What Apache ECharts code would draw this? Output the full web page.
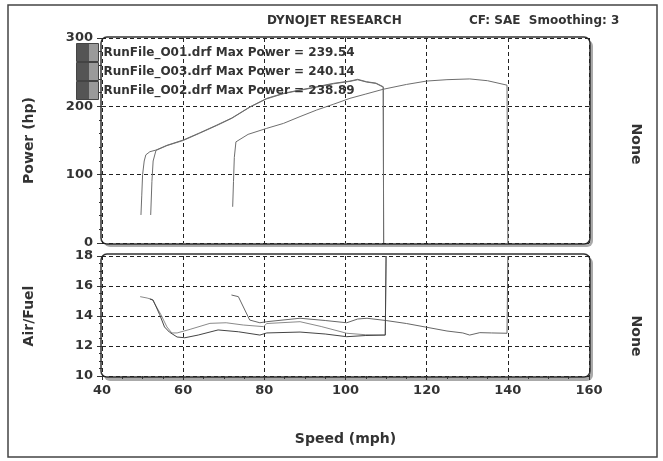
<!DOCTYPE html>
<html><head><meta charset="utf-8">
<script src="https://cdn.jsdelivr.net/npm/echarts@6/dist/echarts.min.js"></script>
<style>html,body{margin:0;padding:0;background:#fff}#c{width:663px;height:461px}</style>
</head><body><div id="c"></div>
<script>
// ---- data ----
const runNames = ['RunFile_O01.drf', 'RunFile_O03.drf', 'RunFile_O02.drf'];
const maxPower = [239.54, 240.14, 238.89];
const speedTicks = [40, 60, 80, 100, 120, 140, 160];
const powerTicks = [0, 100, 200, 300];
const afrTicks = [10, 12, 14, 16, 18];

// [speed mph, power hp]
const powerO01 = [[49.6,41],[49.8,70],[50.0,100],[50.4,120],[50.8,129],[51.8,133.6],[53.3,136],[56,143],[60,150.7],[64,161],[68.3,172.6],[72,183],[76.5,199.4],[80.6,211.7],[84.7,219],[88.8,224],[92.9,228.7],[97,233.6],[101.1,237],[103,239.5],[105.2,236],[107.5,234],[109.3,228.7],[109.4,0]];
const powerO02 = [[52.0,41],[52.3,90],[52.6,120],[53.3,135.5],[56,142.5],[60,150],[64,160.5],[68.3,172],[72,182.5],[76.5,199],[80.6,211],[84.7,218.5],[88.8,223.5],[92.9,228],[97,233],[101.1,236.5],[103,238.9],[105.2,235.5],[107.5,233.5],[109.3,228],[109.4,0]];
const powerO03 = [[72.2,53],[72.4,90],[72.6,125],[73.0,148],[73.2,150.7],[76,159],[80.6,167.8],[84.7,175],[88.8,185],[92.9,194.6],[97,203],[101.1,211.7],[105,218],[109.3,225],[115,232],[120,237],[125,239],[130.6,240.1],[135,237.5],[139.8,231],[140,0]];

// [speed mph, air/fuel ratio]
const afrO01 = [[49.4,15.29],[51.1,15.2],[52.4,15.1],[54.5,14.1],[56.0,13.27],[57.2,12.87],[58.5,12.87],[61.7,13.11],[66.6,13.51],[70.6,13.55],[74.8,13.4],[79.8,13.29],[80.6,13.5],[88.8,13.62],[94,13.3],[100.3,12.85],[105,12.75],[109.8,12.73],[110,18]];
const afrO02 = [[51.8,15.13],[52.6,15.06],[54.2,14.1],[55.4,13.27],[56.6,12.93],[58.5,12.6],[60.4,12.55],[63.7,12.73],[68.6,13.07],[73.6,12.95],[78.9,12.73],[80.6,12.87],[88.8,12.93],[95,12.8],[100.3,12.62],[105,12.7],[109.8,12.73],[110,18]];
const afrO03 = [[71.9,15.4],[73.6,15.29],[75.2,14.4],[76.4,13.73],[78.9,13.55],[80.6,13.62],[88.8,13.85],[95,13.7],[100.3,13.55],[103,13.8],[105.3,13.85],[110.2,13.69],[115,13.5],[120,13.25],[125,13.0],[128.9,12.87],[130.6,12.73],[133.1,12.89],[136,12.87],[139.8,12.85],[140,18]];

// ---- chart ----
const FONT = 'DejaVu Sans';
const INK = '#333';
const dash = { color: '#222', width: 1, type: [4, 3] };
const lbl = { color: INK, fontFamily: FONT, fontWeight: 'bold', fontSize: 13 };
const nameStyle = { color: INK, fontFamily: FONT, fontWeight: 'bold', fontSize: 14 };

function xAx(grid, showLabels) {
  return {
    type: 'value', gridIndex: grid, min: speedTicks[0], max: speedTicks[speedTicks.length - 1], interval: 20,
    axisLine: { show: false },
    axisTick: { show: showLabels, length: 4, lineStyle: { color: INK } },
    minorTick: { show: showLabels, splitNumber: 4, length: 3, lineStyle: { color: INK } },
    axisLabel: Object.assign({ show: showLabels, margin: 8 }, lbl),
    splitLine: { show: true, lineStyle: dash },
    name: showLabels ? 'Speed (mph)' : '', nameLocation: 'middle', nameGap: 56,
    nameTextStyle: Object.assign({}, nameStyle, { fontSize: 14 })
  };
}
function yAx(grid, ticks, minorSplit, name) {
  return {
    type: 'value', gridIndex: grid, min: ticks[0], max: ticks[ticks.length - 1], interval: ticks[1] - ticks[0],
    axisLine: { show: false },
    axisTick: { show: true, length: 5, lineStyle: { color: INK } },
    minorTick: { show: true, splitNumber: minorSplit, length: 3, lineStyle: { color: INK } },
    axisLabel: Object.assign({ margin: 9 }, lbl),
    splitLine: { show: true, lineStyle: dash },
    name: name, nameLocation: 'middle', nameGap: 66, nameRotate: 90, nameTextStyle: nameStyle
  };
}

const powerData = [powerO01, powerO03, powerO02];
const afrData = [afrO01, afrO03, afrO02];
const powerColors = ['#6e6e6e', '#6e6e6e', '#6e6e6e'];
const afrColors = ['#8a8a8a', '#666', '#444'];

const series = [];
runNames.forEach((n, i) => {
  series.push({ name: n, type: 'line', xAxisIndex: 0, yAxisIndex: 0, data: powerData[i], showSymbol: false,
    lineStyle: { color: powerColors[i], width: 1 }, itemStyle: { color: powerColors[i] }, z: 3 });
  series.push({ name: n, type: 'line', xAxisIndex: 1, yAxisIndex: 1, data: afrData[i], showSymbol: false,
    lineStyle: { color: afrColors[i], width: 1 }, itemStyle: { color: afrColors[i] }, z: 3 });
});

const swatch = { type: 'linear', x: 0, y: 0, x2: 1, y2: 0, colorStops: [
  { offset: 0, color: '#555' }, { offset: 0.55, color: '#555' }, { offset: 0.55, color: '#9a9a9a' }, { offset: 1, color: '#9a9a9a' }] };

const option = {
  animation: false,
  backgroundColor: '#fff',
  title: [
    { text: 'DYNOJET RESEARCH', left: 262, top: 10, textStyle: { color: INK, fontFamily: FONT, fontWeight: 'bold', fontSize: 12 } },
    { text: 'CF: SAE  Smoothing: 3', left: 464, top: 10, textStyle: { color: INK, fontFamily: FONT, fontWeight: 'bold', fontSize: 12 } }
  ],
  legend: {
    data: runNames, orient: 'vertical', left: 76, top: 43, padding: 0, itemWidth: 22, itemHeight: 18, itemGap: 0,
    icon: 'rect', selectedMode: false,
    itemStyle: { color: swatch, borderColor: '#444', borderWidth: 1 },
    textStyle: { color: INK, fontFamily: FONT, fontWeight: 'bold', fontSize: 12, lineHeight: 14 },
    formatter: name => name + ' Max Power = ' + maxPower[runNames.indexOf(name)].toFixed(2)
  },
  grid: [
    { left: 102, width: 487, top: 38, height: 205 },
    { left: 102, width: 487, top: 256, height: 120 }
  ],
  xAxis: [xAx(0, false), xAx(1, true)],
  yAxis: [yAx(0, powerTicks, 5, 'Power (hp)'), yAx(1, afrTicks, 4, 'Air/Fuel')],
  series: series,
  graphic: [
    { type: 'rect', z: -20, shape: { x: 8, y: 5, width: 649, height: 452 }, style: { fill: '#fff', stroke: '#444', lineWidth: 1.5 } },
    { type: 'rect', z: -12, shape: { x: 104, y: 40, width: 489, height: 207, r: 6 }, style: { fill: '#aaa' } },
    { type: 'rect', z: -11, shape: { x: 101, y: 37, width: 489, height: 207, r: 6 }, style: { fill: '#fff', stroke: '#333', lineWidth: 1.5 } },
    { type: 'rect', z: -12, shape: { x: 104, y: 257, width: 489, height: 124, r: 6 }, style: { fill: '#aaa' } },
    { type: 'rect', z: -11, shape: { x: 101, y: 254, width: 489, height: 123, r: 6 }, style: { fill: '#fff', stroke: '#333', lineWidth: 1.5 } },
    { type: 'text', x: 636, y: 144, rotation: -Math.PI / 2, style: { text: 'None', x: 0, y: 0, textAlign: 'center', textVerticalAlign: 'middle', fill: INK, font: 'bold 14px "DejaVu Sans"' } },
    { type: 'text', x: 636, y: 336, rotation: -Math.PI / 2, style: { text: 'None', x: 0, y: 0, textAlign: 'center', textVerticalAlign: 'middle', fill: INK, font: 'bold 14px "DejaVu Sans"' } }
  ]
};

const chart = echarts.init(document.getElementById('c'), null, { renderer: 'canvas' });
chart.setOption(option);
</script>
</body></html>
